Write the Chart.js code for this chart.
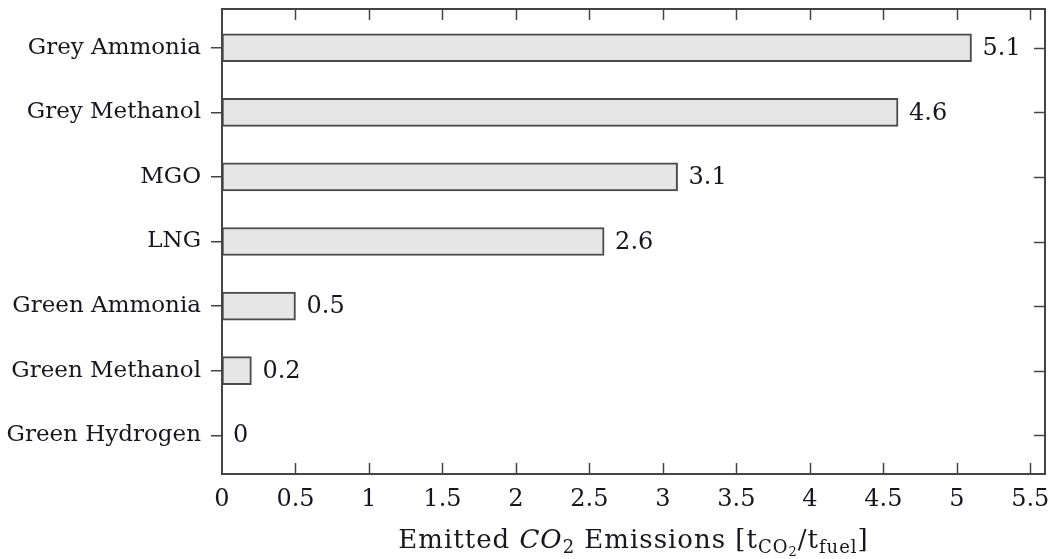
<!DOCTYPE html>
<html>
<head>
<meta charset="utf-8">
<script src="https://cdn.jsdelivr.net/npm/chart.js@4/dist/chart.umd.min.js"></script>
<style>
  html, body { margin: 0; padding: 0; background: #ffffff; }
  #wrap { width: 1050px; height: 559px; position: relative; }
</style>
</head>
<body>
<div id="wrap"><canvas id="c" width="1050" height="559"></canvas></div>
<script>
const categories = ["Grey Ammonia", "Grey Methanol", "MGO", "LNG", "Green Ammonia", "Green Methanol", "Green Hydrogen"];
const emissions = [5.1, 4.6, 3.1, 2.6, 0.5, 0.2, 0];
const xTicks = [0, 0.5, 1, 1.5, 2, 2.5, 3, 3.5, 4, 4.5, 5, 5.5];

const FONT = "'DejaVu Serif', 'Liberation Serif', serif";
const TEXT = "#16161e";
const AXIS = "#444444";

const framePlugin = {
  id: 'frame',
  afterDraw(chart) {
    const ctx = chart.ctx;
    const a = chart.chartArea;
    const xs = chart.scales.x, ys = chart.scales.y;
    ctx.save();
    ctx.strokeStyle = AXIS;
    ctx.lineWidth = 1.5;
    // inward ticks top & bottom
    xs.ticks.forEach(t => {
      const px = Math.round(xs.getPixelForValue(t.value)) + 0.5;
      if (Math.abs(px - a.left) < 2) return;
      ctx.beginPath();
      ctx.moveTo(px, a.bottom); ctx.lineTo(px, a.bottom - 11);
      ctx.moveTo(px, a.top); ctx.lineTo(px, a.top + 11);
      ctx.stroke();
    });
    // inward ticks right
    ys.ticks.forEach(t => {
      const py = Math.round(ys.getPixelForValue(t.value)) + 0.5;
      ctx.beginPath();
      ctx.moveTo(a.right, py); ctx.lineTo(a.right - 11, py);
      ctx.stroke();
    });
    // frame
    ctx.lineWidth = 2;
    ctx.strokeRect(a.left, a.top, a.right - a.left, a.bottom - a.top);

    // value labels
    const meta = chart.getDatasetMeta(0);
    ctx.fillStyle = TEXT;
    ctx.font = "24px " + FONT;
    ctx.textBaseline = 'middle';
    ctx.textAlign = 'left';
    meta.data.forEach((el, i) => {
      ctx.fillText(String(emissions[i]), el.x + 11, el.y + 1);
    });

    // axis title with subscripts
    const size = 26, sub = 18, subsub = 13;
    const parts = [
      {t: "Emitted ", f: size + "px " + FONT, dy: 0},
      {t: "CO", f: "italic " + size + "px " + FONT, dy: 0},
      {t: "2", f: sub + "px " + FONT, dy: 5},
      {t: " Emissions [t", f: size + "px " + FONT, dy: 0},
      {t: "CO", f: sub + "px " + FONT, dy: 5},
      {t: "2", f: subsub + "px " + FONT, dy: 8},
      {t: "/t", f: size + "px " + FONT, dy: 0},
      {t: "fuel", f: sub + "px " + FONT, dy: 5},
      {t: "]", f: size + "px " + FONT, dy: 0}
    ];
    ctx.textBaseline = 'alphabetic';
    try { ctx.letterSpacing = "1px"; } catch (e) {}
    let total = 0;
    parts.forEach(p => { ctx.font = p.f; p.w = ctx.measureText(p.t).width; total += p.w; });
    let x = (a.left + a.right) / 2 - total / 2;
    const base = 548;
    parts.forEach(p => {
      ctx.font = p.f;
      ctx.fillText(p.t, x, base + p.dy);
      x += p.w;
    });
    ctx.restore();
  }
};

new Chart(document.getElementById('c'), {
  type: 'bar',
  data: {
    datasets: [{
      data: emissions.map((v, i) => ({x: v, y: i})),
      backgroundColor: '#e6e6e6',
      borderColor: '#4a4a4a',
      borderWidth: 2,
      borderSkipped: false,
      barThickness: 28
    }]
  },
  options: {
    indexAxis: 'y',
    responsive: false,
    animation: false,
    devicePixelRatio: 1,
    layout: { padding: { top: 9, right: 5, left: 0, bottom: 0 } },
    plugins: { legend: { display: false }, tooltip: { enabled: false } },
    scales: {
      x: {
        type: 'linear',
        position: 'bottom',
        min: 0,
        max: 5.6,
        afterBuildTicks: (axis) => { axis.ticks = xTicks.map(v => ({value: v})); },
        afterFit: (axis) => { axis.height = 85; axis.paddingLeft = 0; axis.paddingRight = 0; },
        grid: { display: false },
        border: { display: false },
        ticks: {
          color: TEXT,
          font: { family: FONT, size: 24 },
          padding: 3,
          maxRotation: 0,
          autoSkip: false,
          callback: (v) => String(v)
        }
      },
      y: {
        type: 'linear',
        reverse: true,
        offset: false,
        min: -0.6,
        max: 6.6,
        afterBuildTicks: (axis) => { axis.ticks = categories.map((_, i) => ({value: i})); },
        afterFit: (axis) => { axis.width = 222; axis.paddingTop = 0; axis.paddingBottom = 0; },
        grid: { display: true, offset: false, drawOnChartArea: false, drawTicks: true, tickLength: 11, color: AXIS, lineWidth: 1.5 },
        border: { display: false },
        ticks: {
          color: TEXT,
          font: { family: FONT, size: 23 },
          padding: 10,
          autoSkip: false,
          callback: (v) => categories[v] !== undefined ? categories[v] : ''
        }
      }
    }
  },
  plugins: [framePlugin]
});
</script>
</body>
</html>
